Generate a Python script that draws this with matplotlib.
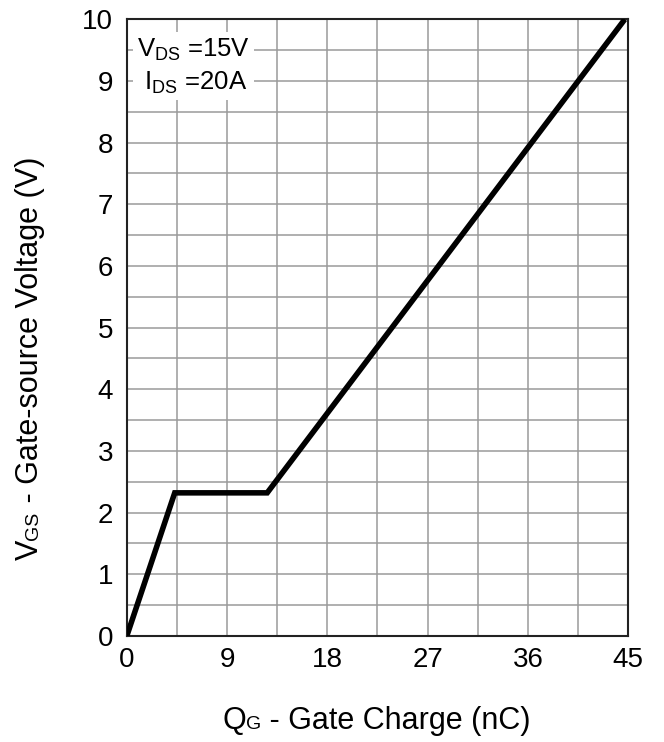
import matplotlib
matplotlib.use("Agg")
import matplotlib.pyplot as plt
from matplotlib.ticker import MultipleLocator
from matplotlib.transforms import IdentityTransform

plt.rcParams['font.family'] = ['Liberation Sans', 'DejaVu Sans']
plt.rcParams['mathtext.fontset'] = 'custom'
plt.rcParams['mathtext.rm'] = 'Liberation Sans'

# gate charge curve (nC, V)
q_gate = [0.0, 4.3, 12.6, 44.7]
v_gs = [0.0, 2.32, 2.32, 10.0]

x_ticks = [0, 9, 18, 27, 36, 45]
y_ticks = [0, 1, 2, 3, 4, 5, 6, 7, 8, 9, 10]


def pieced_text(fig, x, y, pieces, rotation=0):
    # small subscripts sitting on the baseline, like the datasheet labels
    renderer = fig.canvas.get_renderer()
    for s, size in pieces:
        t = fig.text(x, y, s, fontsize=size, rotation=rotation,
                     rotation_mode="anchor", ha="left", va="baseline",
                     transform=IdentityTransform())
        bb = t.get_window_extent(renderer)
        if rotation == 0:
            x += bb.width
        else:
            y += bb.height


fig = plt.figure(figsize=(6.64, 7.42), dpi=100)
axis = fig.add_axes([0.191, 0.143, 0.755, 0.831])

axis.plot(q_gate, v_gs, color="black", linewidth=4.0, solid_capstyle="butt",
          solid_joinstyle="miter", zorder=3)

axis.set_xlim(0, 45)
axis.set_ylim(0, 10)
axis.set_xticks(x_ticks)
axis.set_yticks(y_ticks)
axis.xaxis.set_minor_locator(MultipleLocator(4.5))
axis.yaxis.set_minor_locator(MultipleLocator(0.5))
axis.grid(which="both", color="#9a9a9a", linewidth=1.1)
axis.set_axisbelow(True)
axis.tick_params(which="both", length=0, labelsize=20)
axis.tick_params(axis="y", pad=10)
axis.tick_params(axis="x", pad=8)
for s in axis.spines.values():
    s.set_color("#222222")
    s.set_linewidth(1.5)

pieced_text(fig, 222, 13, [("Q", 22), ("G", 14), (" - Gate Charge (nC)", 22)])
pieced_text(fig, 38, 182, [("V", 22), ("GS", 14), (" - Gate-source Voltage (V)", 22)],
            rotation=90)

axis.text(0.02, 0.972,
          "V$\\mathregular{_{DS}}$ =15V\n I$\\mathregular{_{DS}}$ =20A",
          transform=axis.transAxes, ha="left", va="top", fontsize=18.5,
          linespacing=1.35,
          bbox=dict(facecolor="white", edgecolor="none", pad=3), zorder=4)

fig.savefig("out.png", dpi=100)
